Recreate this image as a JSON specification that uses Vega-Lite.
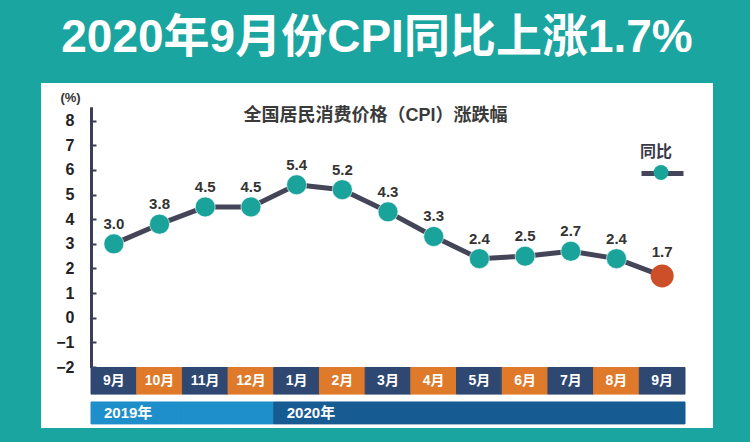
{
  "$schema": "https://vega.github.io/schema/vega-lite/v6.json",
  "autosize": "none",
  "width": 672,
  "height": 345,
  "padding": {"left": 41, "top": 83, "right": 37, "bottom": 14},
  "background": "#1aa5a0",
  "view": {"fill": "white", "stroke": null},
  "title": {
    "text": "2020年9月份CPI同比上涨1.7%",
    "color": "white",
    "font": "Liberation Sans, Noto Sans CJK SC",
    "fontSize": 46,
    "fontWeight": "bold",
    "anchor": "middle",
    "frame": "group",
    "baseline": "middle",
    "offset": -1
  },
  "datasets": {
    "months": [
      {"key": "2019-09", "label": "9月", "year": "2019", "month": 9, "cpi": 3.0},
      {"key": "2019-10", "label": "10月", "year": "2019", "month": 10, "cpi": 3.8},
      {"key": "2019-11", "label": "11月", "year": "2019", "month": 11, "cpi": 4.5},
      {"key": "2019-12", "label": "12月", "year": "2019", "month": 12, "cpi": 4.5},
      {"key": "2020-01", "label": "1月", "year": "2020", "month": 1, "cpi": 5.4},
      {"key": "2020-02", "label": "2月", "year": "2020", "month": 2, "cpi": 5.2},
      {"key": "2020-03", "label": "3月", "year": "2020", "month": 3, "cpi": 4.3},
      {"key": "2020-04", "label": "4月", "year": "2020", "month": 4, "cpi": 3.3},
      {"key": "2020-05", "label": "5月", "year": "2020", "month": 5, "cpi": 2.4},
      {"key": "2020-06", "label": "6月", "year": "2020", "month": 6, "cpi": 2.5},
      {"key": "2020-07", "label": "7月", "year": "2020", "month": 7, "cpi": 2.7},
      {"key": "2020-08", "label": "8月", "year": "2020", "month": 8, "cpi": 2.4},
      {"key": "2020-09", "label": "9月", "year": "2020", "month": 9, "cpi": 1.7}
    ],
    "years": [
      {"key": "2019-09", "text": "2019年"},
      {"key": "2020-01", "text": "2020年"}
    ]
  },
  "layer": [
    {
      "data": {"name": "months"},
      "mark": {"type": "bar", "strokeWidth": 1},
      "encoding": {
        "x": {
          "field": "key", "type": "nominal",
          "scale": {"range": [50, 644], "paddingInner": 0, "paddingOuter": 0},
          "axis": {
            "orient": "top", "labels": false, "ticks": false, "domain": false,
            "title": "全国居民消费价格（CPI）涨跌幅",
            "titleX": 334, "titleY": 32,
            "titleFont": "Liberation Sans, Noto Sans CJK SC",
            "titleFontSize": 18, "titleFontWeight": "bold", "titleColor": "#3a3a3a",
            "titleBaseline": "middle", "titleAlign": "center", "titleAngle": 0
          }
        },
        "y": {
          "datum": -2.02, "type": "quantitative",
          "scale": {"domain": [-2.02, 8.57], "range": [284.5, 23.7], "nice": false, "zero": false},
          "axis": {
            "offset": -50,
            "values": [-2, -1, 0, 1, 2, 3, 4, 5, 6, 7, 8],
            "tickCount": 11,
            "labelOverlap": false,
            "grid": false,
            "domainColor": "#3d3d55", "domainWidth": 3,
            "ticks": true,
            "tickColor": "#3d3d55", "tickWidth": 2, "tickSize": -5,
            "labelPadding": 22,
            "labelFont": "Liberation Sans, Noto Sans CJK SC", "labelFontSize": 16, "labelFontWeight": "bold", "labelColor": "#222222",
            "title": "(%)", "titleAngle": 0, "titleX": -21, "titleY": 14,
            "titleAlign": "center", "titleBaseline": "middle",
            "titleFont": "Liberation Sans, Noto Sans CJK SC", "titleFontSize": 13, "titleFontWeight": "bold", "titleColor": "#333333"
          }
        },
        "y2": {"datum": -3.1},
        "fill": {"condition": {"test": "datum.month % 2 === 1", "value": "#2f4872"}, "value": "#e07a2b"},
        "stroke": {"condition": {"test": "datum.month % 2 === 1", "value": "#2f4872"}, "value": "#e07a2b"}
      }
    },
    {
      "data": {"name": "months"},
      "mark": {"type": "bar", "strokeWidth": 1},
      "encoding": {
        "x": {"field": "key", "type": "nominal"},
        "y": {"datum": -3.42, "type": "quantitative"},
        "y2": {"datum": -4.31},
        "fill": {"condition": {"test": "datum.year === '2019'", "value": "#1e8fca"}, "value": "#175b93"},
        "stroke": {"condition": {"test": "datum.year === '2019'", "value": "#1e8fca"}, "value": "#175b93"}
      }
    },
    {
      "data": {"name": "months"},
      "mark": {"type": "text", "color": "white", "font": "Liberation Sans, Noto Sans CJK SC", "fontSize": 14, "fontWeight": "bold", "baseline": "middle"},
      "encoding": {
        "x": {"field": "key", "type": "nominal"},
        "y": {"datum": -2.56, "type": "quantitative"},
        "text": {"field": "label"}
      }
    },
    {
      "data": {"name": "years"},
      "mark": {"type": "text", "color": "white", "font": "Liberation Sans, Noto Sans CJK SC", "fontSize": 15, "fontWeight": "bold", "baseline": "middle", "align": "left", "dx": 13},
      "encoding": {
        "x": {"field": "key", "type": "nominal", "bandPosition": 0},
        "y": {"datum": -3.87, "type": "quantitative"},
        "text": {"field": "text"}
      }
    },
    {
      "data": {"name": "months"},
      "mark": {"type": "line", "strokeWidth": 5, "strokeJoin": "round"},
      "encoding": {
        "x": {"field": "key", "type": "nominal"},
        "y": {"field": "cpi", "type": "quantitative"},
        "stroke": {
          "datum": "线", "type": "nominal",
          "scale": {"range": ["#45455a"]},
          "legend": {
            "orient": "none", "legendX": 598, "legendY": 67, "title": null,
            "symbolType": "stroke", "symbolSize": 1764, "symbolStrokeWidth": 5,
            "labelExpr": "''", "labelOffset": 0, "zindex": 1
          }
        }
      }
    },
    {
      "data": {"name": "months"},
      "transform": [{"filter": "datum.key !== '2020-09'"}],
      "mark": {"type": "circle", "size": 400, "opacity": 1, "stroke": "#ffffff", "strokeWidth": 1, "strokeOpacity": 0.6},
      "encoding": {
        "x": {"field": "key", "type": "nominal"},
        "y": {"field": "cpi", "type": "quantitative"},
        "fill": {
          "datum": "同比", "type": "nominal",
          "scale": {"range": ["#1aa39b"]},
          "legend": {
            "orient": "none", "legendX": 599, "legendY": 61, "title": "同比",
            "titleFont": "Liberation Sans, Noto Sans CJK SC", "titleFontSize": 16, "titleFontWeight": "bold", "titleColor": "#3a3a4a",
            "titleAnchor": "middle", "titlePadding": 5,
            "symbolType": "circle", "symbolSize": 225, "symbolOffset": 9.5, "symbolStrokeWidth": 0, "symbolOpacity": 1,
            "labelExpr": "''", "labelOffset": 0, "zindex": 2
          }
        }
      }
    },
    {
      "data": {"name": "months"},
      "transform": [{"filter": "datum.key === '2020-09'"}],
      "mark": {"type": "circle", "size": 530, "opacity": 1, "color": "#cc4f29"},
      "encoding": {
        "x": {"field": "key", "type": "nominal"},
        "y": {"field": "cpi", "type": "quantitative"}
      }
    },
    {
      "data": {"name": "months"},
      "transform": [{"filter": "datum.key !== '2020-09'"}],
      "mark": {"type": "text", "dy": -20, "baseline": "middle", "font": "Liberation Sans, Noto Sans CJK SC", "fontSize": 15, "fontWeight": "bold", "color": "#333333"},
      "encoding": {
        "x": {"field": "key", "type": "nominal"},
        "y": {"field": "cpi", "type": "quantitative"},
        "text": {"field": "cpi", "type": "quantitative", "format": ".1f"}
      }
    },
    {
      "data": {"name": "months"},
      "transform": [{"filter": "datum.key === '2020-09'"}],
      "mark": {"type": "text", "dy": -24, "baseline": "middle", "font": "Liberation Sans, Noto Sans CJK SC", "fontSize": 15, "fontWeight": "bold", "color": "#333333"},
      "encoding": {
        "x": {"field": "key", "type": "nominal"},
        "y": {"field": "cpi", "type": "quantitative"},
        "text": {"field": "cpi", "type": "quantitative", "format": ".1f"}
      }
    }
  ]
}
